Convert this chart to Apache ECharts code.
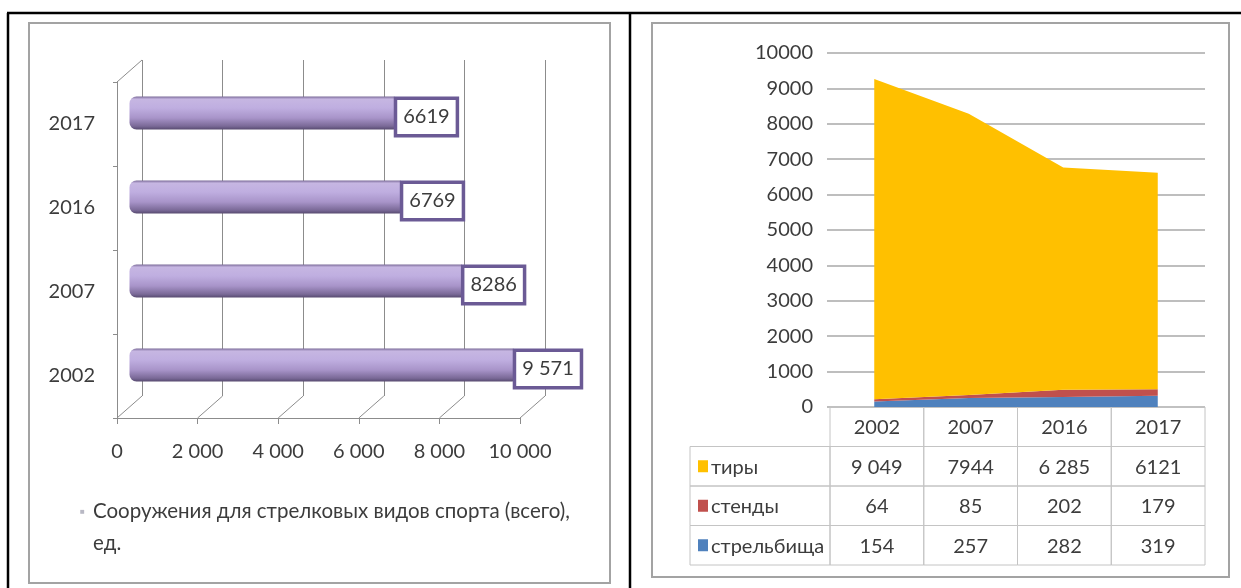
<!DOCTYPE html>
<html><head><meta charset="utf-8">
<script src="https://cdn.jsdelivr.net/npm/echarts@6/dist/echarts.min.js"></script>
<style>html,body{margin:0;padding:0;background:#fff}#c{width:1241px;height:588px}</style>
</head><body><div id="c"></div>
<script>
// ---------- data: left chart ----------
const barYears = ['2002', '2007', '2016', '2017'];
const barValues = [9571, 8286, 6769, 6619];
const barValueLabels = ['9 571', '8286', '6769', '6619'];
const barSeriesName = 'Сооружения для стрелковых видов спорта (всего), ед.';
const barTicks = [0, 2000, 4000, 6000, 8000, 10000];
const barTickLabels = ['0', '2 000', '4 000', '6 000', '8 000', '10 000'];

// ---------- data: right chart ----------
const areaYears = ['2002', '2007', '2016', '2017'];
const tiry = [9049, 7944, 6285, 6121];
const stendy = [64, 85, 202, 179];
const strelbishcha = [154, 257, 282, 319];
const tiryText = ['9 049', '7944', '6 285', '6121'];
const stendyText = ['64', '85', '202', '179'];
const strelbishchaText = ['154', '257', '282', '319'];
const areaNames = ['тиры', 'стенды', 'стрельбища'];
const areaColors = ['#ffc000', '#c0504d', '#4f81bd'];
const areaTickLabels = ['0', '1000', '2000', '3000', '4000', '5000', '6000', '7000', '8000', '9000', '10000'];

// ---------- style constants ----------
const FONT = 'Lato, "Open Sans", sans-serif';
const TXT = '#3c3c3c';
const DEPTH_X = 25, DEPTH_Y = 22;
const LABEL_COL_W = 140;
const GRID_LINE = '#8c8c8c';
const TABLE_LINE = '#c4c4c4';

const tableRows = [areaYears, tiryText, stendyText, strelbishchaText];

const chart = echarts.init(document.getElementById('c'), null, {renderer: 'canvas'});

const barGradient = new echarts.graphic.LinearGradient(0, 0, 0, 1, [
  {offset: 0, color: '#7a6a98'},
  {offset: 0.08, color: '#c6b6e2'},
  {offset: 0.35, color: '#bfaee0'},
  {offset: 0.65, color: '#a894c9'},
  {offset: 0.9, color: '#7a6997'},
  {offset: 1, color: '#574a70'}
]);

function floorRender(params, api) {
  const v = api.value(0);
  const c = api.coord([v, 0]);
  const s = api.size([0, 1]);
  const yb = c[1] + s[1] / 2;
  const children = [{
    type: 'line',
    shape: {x1: c[0], y1: yb, x2: c[0] + DEPTH_X, y2: yb - DEPTH_Y},
    style: {stroke: GRID_LINE, lineWidth: 1}
  }];
  if (params.dataIndex === 0) {
    const t = api.coord([v, barYears.length - 1]);
    const yt = t[1] - s[1] / 2;
    children.push({
      type: 'line',
      shape: {x1: t[0], y1: yt, x2: t[0] + DEPTH_X, y2: yt - DEPTH_Y},
      style: {stroke: GRID_LINE, lineWidth: 1}
    });
  }
  return {type: 'group', children};
}

function tableCellRender(params, api) {
  const col = api.value(0), row = api.value(1);
  const c = api.coord([col, row]);
  const s = api.size([1, 1]);
  return {
    type: 'group',
    children: [
      {type: 'rect', shape: {x: c[0] - s[0] / 2, y: c[1] - s[1] / 2, width: s[0], height: s[1]},
       style: {fill: 'none', stroke: TABLE_LINE, lineWidth: 1}},
      {type: 'text', style: {text: tableRows[row][col], x: c[0], y: c[1] + 1, align: 'center', verticalAlign: 'middle',
        font: '20px ' + FONT, fill: TXT}}
    ]
  };
}

function tableLabelRender(params, api) {
  const col = api.value(0), row = api.value(1);
  const c = api.coord([col, row]);
  const s = api.size([1, 1]);
  const x1 = c[0] - s[0] / 2;
  const x0 = x1 - LABEL_COL_W;
  return {
    type: 'group',
    children: [
      {type: 'rect', shape: {x: x0, y: c[1] - s[1] / 2, width: LABEL_COL_W, height: s[1]},
       style: {fill: 'none', stroke: TABLE_LINE, lineWidth: 1}},
      {type: 'rect', shape: {x: x0 + 8, y: c[1] - 6, width: 10, height: 12},
       style: {fill: areaColors[row - 1]}},
      {type: 'text', style: {text: areaNames[row - 1], x: x0 + 21, y: c[1] + 1, align: 'left', verticalAlign: 'middle',
        font: '20px ' + FONT, fill: TXT}}
    ]
  };
}

const tableCells = [];
tableRows.forEach((r, ri) => r.forEach((_, ci) => tableCells.push([ci, ri])));
const tableLabels = areaNames.map((_, i) => [0, i + 1]);

const legendParts = barSeriesName.split(', ');

const option = {
  animation: false,
  backgroundColor: '#ffffff',
  textStyle: {fontFamily: FONT},
  legend: {
    data: [barSeriesName],
    left: 70, top: 496,
    itemWidth: 0, itemHeight: 0,
    itemStyle: {opacity: 0},
    selectedMode: false,
    formatter: () => '{m|■}{t|' + legendParts[0] + ',}\n{p|}{t|' + legendParts[1] + '}',
    textStyle: {
      rich: {
        m: {fontSize: 8, color: '#b8b8c4', width: 13, fontFamily: FONT},
        p: {width: 13},
        t: {fontSize: 20.5, fontFamily: FONT, color: TXT, lineHeight: 32}
      }
    }
  },
  grid: [
    {left: 142, top: 60, width: 403, height: 336},          // back wall
    {left: 117, top: 82, width: 403, height: 336},          // front / side wall
    {left: 129.5, top: 71, width: 403, height: 336},        // bars
    {left: 827, top: 53, width: 378, height: 354},          // area plot
    {left: 830, top: 407, width: 375, height: 158}          // data table
  ],
  xAxis: [
    {gridIndex: 0, type: 'value', min: 0, max: 10000, interval: 2000,
     axisLine: {show: false}, axisTick: {show: false}, axisLabel: {show: false},
     splitLine: {show: true, lineStyle: {color: GRID_LINE, width: 1}}},
    {gridIndex: 1, type: 'value', min: 0, max: 10000, interval: 2000,
     axisLine: {show: true, lineStyle: {color: GRID_LINE, width: 1}},
     axisTick: {show: true, length: 6, lineStyle: {color: GRID_LINE}},
     splitLine: {show: false},
     axisLabel: {show: true, margin: 24, fontSize: 20, fontFamily: FONT, color: TXT,
       formatter: v => barTickLabels[barTicks.indexOf(v)]}},
    {gridIndex: 2, type: 'value', min: 0, max: 10000, show: false},
    {gridIndex: 3, type: 'category', data: areaYears, boundaryGap: true,
     axisLine: {show: false}, axisTick: {show: false}, axisLabel: {show: false}},
    {gridIndex: 4, type: 'category', data: areaYears, show: false}
  ],
  yAxis: [
    {gridIndex: 0, type: 'category', data: barYears, show: false},
    {gridIndex: 1, type: 'category', data: barYears,
     axisLine: {show: true, lineStyle: {color: GRID_LINE, width: 1}},
     axisTick: {show: true, length: 4, lineStyle: {color: GRID_LINE}},
     axisLabel: {margin: 22, fontSize: 20, fontFamily: FONT, color: TXT}},
    {gridIndex: 2, type: 'category', data: barYears, show: false},
    {gridIndex: 3, type: 'value', min: 0, max: 10000, interval: 1000,
     axisLine: {show: false}, axisTick: {show: false},
     axisLabel: {margin: 14, fontSize: 20, fontFamily: FONT, color: TXT,
       formatter: v => areaTickLabels[Math.round(v / 1000)]},
     splitLine: {show: true, lineStyle: {color: '#a9a9a9', width: 1.5}}},
    {gridIndex: 4, type: 'category', data: ['h', 'r1', 'r2', 'r3'], inverse: true, show: false}
  ],
  series: [
    {
      name: '_floor', type: 'custom', xAxisIndex: 1, yAxisIndex: 1,
      data: barTicks.map(v => [v]), renderItem: floorRender, silent: true, z: 1
    },
    {
      name: barSeriesName, type: 'bar', xAxisIndex: 2, yAxisIndex: 2,
      data: barValues, barWidth: 33, z: 3,
      itemStyle: {color: barGradient, borderRadius: [7, 3, 3, 7]},
      label: {
        show: true, position: 'right', distance: 1, offset: [0, 4],
        formatter: p => barValueLabels[p.dataIndex],
        backgroundColor: '#ffffff', borderColor: '#6b5a95', borderWidth: 3.5,
        padding: [8, 6, 6, 6], fontSize: 20, fontFamily: FONT, color: TXT
      }
    },
    {
      name: areaNames[2], type: 'line', xAxisIndex: 3, yAxisIndex: 3, stack: 'total',
      data: strelbishcha, symbol: 'none', lineStyle: {width: 0},
      areaStyle: {color: areaColors[2], opacity: 1}, itemStyle: {color: areaColors[2]}
    },
    {
      name: areaNames[1], type: 'line', xAxisIndex: 3, yAxisIndex: 3, stack: 'total',
      data: stendy, symbol: 'none', lineStyle: {width: 0},
      areaStyle: {color: areaColors[1], opacity: 1}, itemStyle: {color: areaColors[1]}
    },
    {
      name: areaNames[0], type: 'line', xAxisIndex: 3, yAxisIndex: 3, stack: 'total',
      data: tiry, symbol: 'none', lineStyle: {width: 0},
      areaStyle: {color: areaColors[0], opacity: 1}, itemStyle: {color: areaColors[0]}
    },
    {
      name: '_tableCells', type: 'custom', xAxisIndex: 4, yAxisIndex: 4,
      data: tableCells, renderItem: tableCellRender, silent: true
    },
    {
      name: '_tableLabels', type: 'custom', xAxisIndex: 4, yAxisIndex: 4,
      data: tableLabels, renderItem: tableLabelRender, silent: true, clip: false
    }
  ],
  graphic: [
    {type: 'rect', shape: {x: 29, y: 23, width: 581, height: 560}, style: {fill: 'none', stroke: '#a3a3a3', lineWidth: 2}, z: -1},
    {type: 'rect', shape: {x: 652, y: 23, width: 577, height: 554}, style: {fill: 'none', stroke: '#a3a3a3', lineWidth: 2}, z: -1},
    {type: 'line', shape: {x1: 7, y1: 13, x2: 1241, y2: 13}, style: {stroke: '#000', lineWidth: 2.5}},
    {type: 'line', shape: {x1: 8, y1: 13, x2: 8, y2: 588}, style: {stroke: '#000', lineWidth: 2.5}},
    {type: 'line', shape: {x1: 630, y1: 13, x2: 630, y2: 588}, style: {stroke: '#000', lineWidth: 2.5}}
  ]
};
chart.setOption(option);
</script>
</body></html>
